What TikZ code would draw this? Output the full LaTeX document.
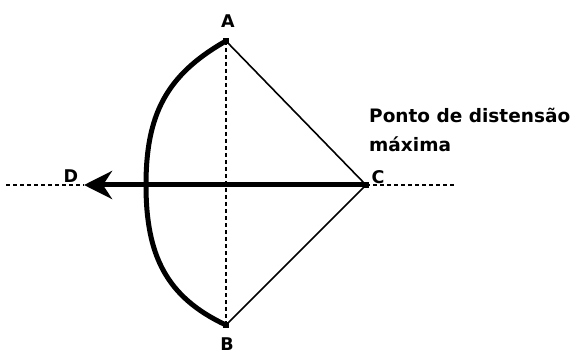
\documentclass[tikz,border=0pt]{standalone}
\usepackage{fontspec}
\setmainfont{DejaVu Sans}
\usetikzlibrary{arrows.meta}
\begin{document}
\begin{tikzpicture}[x=1pt,y=-1pt,
  lbl/.style={font=\bfseries\fontsize{17.5}{17.5}\selectfont, inner sep=0pt},
  txt/.style={font=\bfseries\fontsize{18.5}{18.5}\selectfont, inner sep=0pt, anchor=base west},
  thinline/.style={line width=1.6pt},
  dashline/.style={line width=1.4pt, dash pattern=on 4pt off 3pt},
  bowline/.style={line width=5pt, line cap=round},
  pt/.style={rectangle, fill=black, inner sep=0pt, minimum size=6pt}]
\useasboundingbox (0,0) rectangle (577,355);
\coordinate (A) at (226,41);
\coordinate (B) at (226,325);
\coordinate (C) at (366,185);
\coordinate (M) at (146,185);
\coordinate (Dtip) at (84,185);
\coordinate (Lend) at (6,185);
\coordinate (Rend) at (456,185);
% dashed lines
\draw[dashline] (A) -- (B);
\draw[dashline] (Lend) -- (Dtip);
\draw[dashline] (C) -- (Rend);
% string
\draw[thinline] (A) -- (C) -- (B);
% bow
\draw[bowline] (A) .. controls (166,75) and (146,115) .. (M)
  .. controls (146,255) and (166,297) .. (B);
% arrow
\draw[line width=5pt, -{Stealth[length=28pt,width=28pt,inset=9pt]}] (C) -- (Dtip);
\node[pt] (pA) at (A) {};
\node[pt] (pB) at (B) {};
\node[pt] (pC) at (C) {};
% labels
\node[lbl] (lA) at (228,21) {A};
\node[lbl] (lB) at (227,344) {B};
\node[lbl] (lD) at (71,176) {D};
\node[lbl] (lC) at (378,177) {C};
\node[txt] (t1) at (369,123) {Ponto de distensão};
\node[txt] (t2) at (369,152) {máxima};
\end{tikzpicture}
\end{document}
